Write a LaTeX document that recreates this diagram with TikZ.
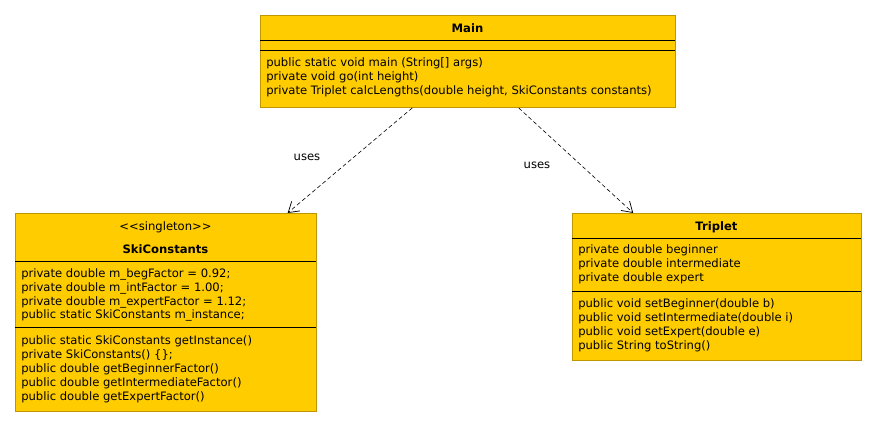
\documentclass[tikz,border=0pt]{standalone}
\usepackage{fontspec}
\setmainfont{DejaVu Sans}
\usetikzlibrary{arrows.meta,calc}
\definecolor{umlfill}{RGB}{255,204,0}
\definecolor{umledge}{RGB}{190,150,0}
\tikzset{
  cls/.style={draw=umledge, fill=umlfill, line width=0.7pt, inner sep=0, anchor=north west},
  sep/.style={draw=black, line width=0.6pt},
  txt/.style={anchor=west, inner sep=0, font=\fontsize{8.7}{10}\selectfont},
  ttl/.style={anchor=center, inner sep=0, font=\fontsize{8.7}{10}\selectfont\bfseries},
  lbl/.style={anchor=center, inner sep=0, font=\fontsize{8.7}{10}\selectfont},
  dep/.style={draw=black, dashed, dash pattern=on 3pt off 2pt, line width=0.45pt, -{Straight Barb[length=7.5pt,width=9.5pt,line width=0.55pt]}}
}
\begin{document}
\begin{tikzpicture}[x=0.75pt,y=-0.75pt]
\useasboundingbox (0,0) rectangle (876,427);
% Main
\node[cls, minimum width=415*0.75pt, minimum height=92*0.75pt] (main) at (260,15) {};
\node[ttl] (mainT) at (467.5,28) {Main};
\draw[sep] (260,40) -- (675,40);
\draw[sep] (260,50) -- (675,50);
\node[txt] (m1) at (266,63) {public static void main (String[] args)};
\node[txt] (m2) at (266,77) {private void go(int height)};
\node[txt] (m3) at (266,91) {private Triplet calcLengths(double height, SkiConstants constants)};
% SkiConstants
\node[cls, minimum width=301*0.75pt, minimum height=198*0.75pt] (ski) at (15,213) {};
\node[lbl] (skiS) at (165.5,227) {{<}{<}singleton{>}{>}};
\node[ttl] (skiT) at (165.5,249) {SkiConstants};
\draw[sep] (15,261) -- (316,261);
\node[txt] (s1) at (21,274) {private double m\_begFactor = 0.92;};
\node[txt] (s2) at (21,288) {private double m\_intFactor = 1.00;};
\node[txt] (s3) at (21,302) {private double m\_expertFactor = 1.12;};
\node[txt] (s4) at (21,315) {public static SkiConstants m\_instance;};
\draw[sep] (15,327) -- (316,327);
\node[txt] (s5) at (21,341) {public static SkiConstants getInstance()};
\node[txt] (s6) at (21,355) {private SkiConstants() \{\};};
\node[txt] (s7) at (21,369) {public double getBeginnerFactor()};
\node[txt] (s8) at (21,383) {public double getIntermediateFactor()};
\node[txt] (s9) at (21,397) {public double getExpertFactor()};
% Triplet
\node[cls, minimum width=289*0.75pt, minimum height=147*0.75pt] (tri) at (572,213) {};
\node[ttl] (triT) at (716.5,227) {Triplet};
\draw[sep] (572,238) -- (861,238);
\node[txt] (t1) at (578,250) {private double beginner};
\node[txt] (t2) at (578,264) {private double intermediate};
\node[txt] (t3) at (578,278) {private double expert};
\draw[sep] (572,291) -- (861,291);
\node[txt] (t4) at (578,304) {public void setBeginner(double b)};
\node[txt] (t5) at (578,318) {public void setIntermediate(double i)};
\node[txt] (t6) at (578,332) {public void setExpert(double e)};
\node[txt] (t7) at (578,346) {public String toString()};
% connectors
\draw[dep] ($(main.south west)!0.366!(main.south east)$) -- ($(ski.north west)!0.903!(ski.north east)$);
\draw[dep] ($(main.south west)!0.622!(main.south east)$) -- ($(tri.north west)!0.211!(tri.north east)$);
\node[lbl] (u1) at (307,157) {uses};
\node[lbl] (u2) at (537,165) {uses};
\end{tikzpicture}
\end{document}
